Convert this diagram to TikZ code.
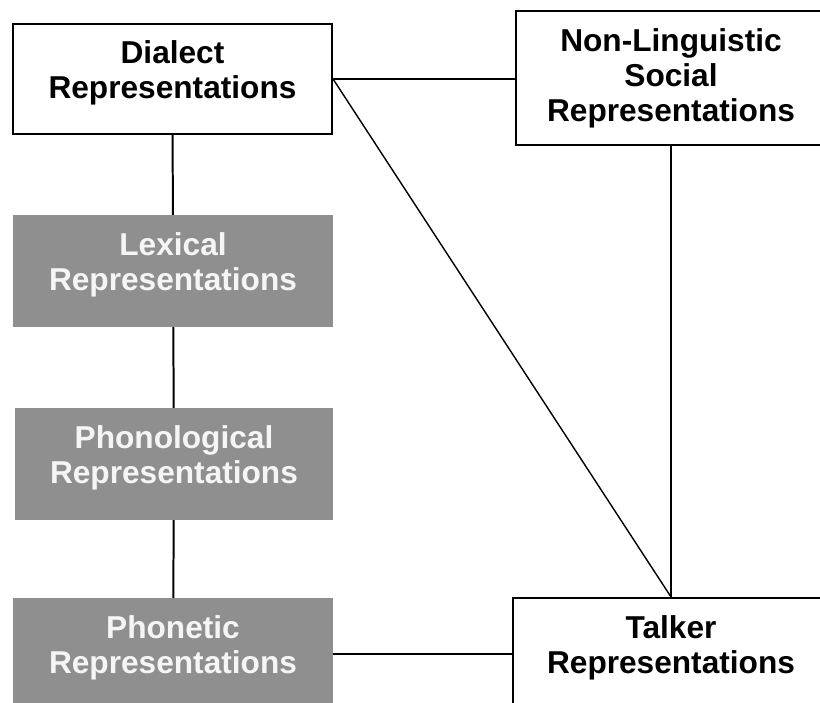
\documentclass[tikz,border=0pt]{standalone}
\usepackage{fontspec}
\setmainfont{Liberation Sans}
\definecolor{boxgray}{RGB}{143,143,143}
\definecolor{boxtext}{RGB}{245,245,245}

\begin{document}
\begin{tikzpicture}[x=0.03cm, y=-0.03cm,
        repbox/.style={rectangle, align=center, inner sep=0pt,
            font=\fontsize{27}{30}\selectfont\bfseries},
        tworow/.style={text depth=16pt},
        whitebox/.style={repbox, draw=black, fill=white, line width=1.8pt},
        graybox/.style={repbox, tworow, fill=boxgray, text=boxtext},
        link/.style={line width=1.7pt}]
        \useasboundingbox (0,0) rectangle (820,702);
        \node[whitebox, tworow, minimum width=95.7mm, minimum height=33mm] (dialect) at (172.5,79) {Dialect\\Representations};
        \node[whitebox, minimum width=93mm, minimum height=40.2mm] (social) at (671,78) {Non-Linguistic\\Social\\Representations};
        \node[graybox, minimum width=96mm, minimum height=33.6mm] (lexical) at (173,271) {Lexical\\Representations};
        \node[graybox, minimum width=95.4mm, minimum height=33.6mm] (phonol) at (174,464) {Phonological\\Representations};
        \node[graybox, minimum width=96mm, minimum height=33.6mm] (phonet) at (173,654) {Phonetic\\Representations};
        \node[whitebox, tworow, minimum width=94.8mm, minimum height=33.6mm] (talker) at (671,654) {Talker\\Representations};
        \draw[link] (dialect) -- (lexical);
        \draw[link] (lexical) -- (phonol);
        \draw[link] (phonol) -- (phonet);
        \draw[link] (dialect.east) -- (dialect.east -| social.west);
        \draw[link, line width=1.2pt] (dialect.east) -- (talker.north);
        \draw[link] (social) -- (talker);
        \draw[link] (phonet.east) -- (talker.west);
    \end{tikzpicture}
\end{document}
